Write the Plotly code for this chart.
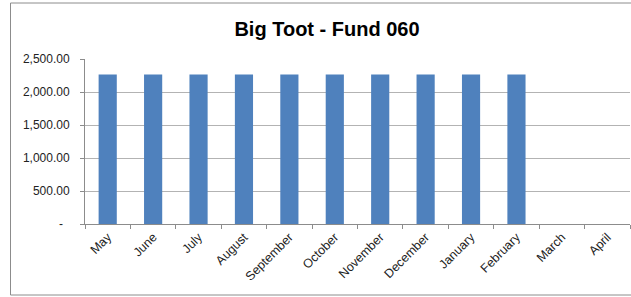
import plotly.graph_objects as go

months = ["May", "June", "July", "August", "September", "October", "November",
          "December", "January", "February", "March", "April"]
values = [2265, 2265, 2265, 2265, 2265, 2265, 2265, 2265, 2265, 2265, None, None]
y_tick_vals = [0, 500, 1000, 1500, 2000, 2500]
y_tick_text = ["-\u00a0\u00a0", "500.00", "1,000.00", "1,500.00", "2,000.00", "2,500.00"]
title_text = "Big Toot - Fund 060"

W, H = 631, 297
ml, mr, mt, mb = 85, 1, 59, 73
pw, ph = W - ml - mr, H - mt - mb

def px_x(p):
    return (p - ml) / pw

def px_y(p):
    return (H - mb - p) / ph

font = "Liberation Sans, Arial, sans-serif"

fig = go.Figure(go.Bar(x=months, y=values, marker=dict(color="#4f81bd", line=dict(width=0)),
                       width=0.4))

fig.update_layout(
    width=W, height=H,
    margin=dict(l=ml, r=mr, t=mt, b=mb),
    paper_bgcolor="white", plot_bgcolor="white",
    showlegend=False,
    title=dict(text="<b>" + title_text + "</b>", x=327 / W, xanchor="center",
               y=1 - 29 / H, yanchor="middle",
               font=dict(family=font, size=20, color="black")),
    shapes=[dict(type="rect", xref="paper", yref="paper",
                 x0=px_x(10.5), x1=px_x(645), y0=px_y(295), y1=px_y(3),
                 line=dict(color="#8c8c8c", width=1), fillcolor="rgba(0,0,0,0)",
                 layer="below")],
)
fig.update_xaxes(type="category", showgrid=False, showline=True, linecolor="#8c8c8c",
                 linewidth=1, ticks="outside", tickson="boundaries", ticklen=4,
                 tickcolor="#8c8c8c", tickangle=-45,
                 tickfont=dict(family=font, size=12.5, color="#222"))
fig.update_yaxes(range=[0, 2500], tickvals=y_tick_vals, ticktext=y_tick_text,
                 showgrid=True, gridcolor="#b3b3b3", gridwidth=1,
                 showline=True, linecolor="#8c8c8c", linewidth=1,
                 ticks="outside", ticklen=4, tickcolor="#8c8c8c",
                 zeroline=False, ticklabelstandoff=8,
                 tickfont=dict(family=font, size=12, color="#222"))

fig.write_html("out.html", config={"displayModeBar": False},
               post_script="document.body.style.margin='0';")
